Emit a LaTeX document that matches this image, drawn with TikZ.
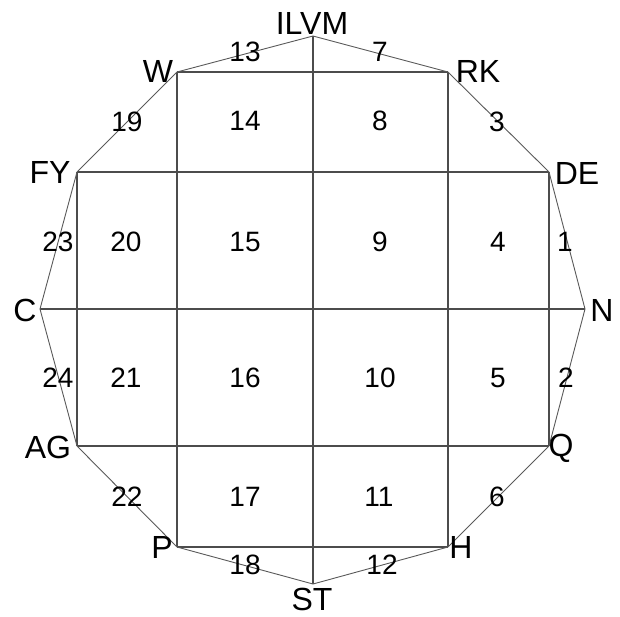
\documentclass[tikz,border=0pt]{standalone}
\usepackage{fontspec}
\setmainfont{Liberation Sans}
\begin{document}
\begin{tikzpicture}[x=1pt,y=-1pt,
  edge/.style={draw=black!65,line width=0.9pt},
  grid/.style={draw=black!70,line width=1.2pt},
  lbl/.style={font=\fontsize{32}{36}\selectfont,inner sep=0pt},
  num/.style={font=\fontsize{28}{32}\selectfont,inner sep=0pt}]
\useasboundingbox (0,0) rectangle (620,616);
% vertices
\coordinate (ilvm) at (313,36);
\coordinate (w) at (177,72);
\coordinate (rk) at (448,72);
\coordinate (fy) at (77,172);
\coordinate (de) at (549,172);
\coordinate (c) at (40,309);
\coordinate (n) at (585,309);
\coordinate (ag) at (77,446);
\coordinate (q) at (549,446);
\coordinate (p) at (177,547);
\coordinate (h) at (448,547);
\coordinate (st) at (313,584);
% grid
\draw[grid] (w) -- (rk);
\draw[grid] (fy) -- (de);
\draw[grid] (c) -- (n);
\draw[grid] (ag) -- (q);
\draw[grid] (p) -- (h);
\draw[grid] (ilvm) -- (st);
\draw[grid] (w) -- (p);
\draw[grid] (rk) -- (h);
\draw[grid] (fy) -- (ag);
\draw[grid] (de) -- (q);
% outline
\draw[edge,line join=round] (ilvm) -- (rk) -- (de) -- (n) -- (q) -- (h) -- (st) -- (p) -- (ag) -- (c) -- (fy) -- (w) -- cycle;
% vertex labels
\node[lbl] (lilvm) at (312,23) {ILVM};
\node[lbl] (lw) at (158,71) {W};
\node[lbl] (lrk) at (478,71) {RK};
\node[lbl] (lfy) at (50,172) {FY};
\node[lbl] (lde) at (577,173) {DE};
\node[lbl] (lc) at (25,310) {C};
\node[lbl] (ln) at (602,310) {N};
\node[lbl] (lag) at (48,447) {AG};
\node[lbl] (lq) at (561,448) {Q};
\node[lbl] (lp) at (162,547) {P};
\node[lbl] (lh) at (461,547) {H};
\node[lbl] (lst) at (312,599) {ST};
% edge labels
\node[num] (e13) at (245,52) {13};
\node[num] (e7) at (380,52) {7};
\node[num] (e19) at (127,122) {19};
\node[num] (e3) at (497,122) {3};
\node[num] (e23) at (58,242) {23};
\node[num] (e1) at (565,242) {1};
\node[num] (e24) at (58,378) {24};
\node[num] (e2) at (566,378) {2};
\node[num] (e22) at (127,497) {22};
\node[num] (e6) at (497,497) {6};
\node[num] (e18) at (245,565) {18};
\node[num] (e12) at (382,565) {12};
% cell labels
\node[num] (c14) at (245,121) {14};
\node[num] (c8) at (380,121) {8};
\node[num] (c20) at (126,242) {20};
\node[num] (c15) at (245,242) {15};
\node[num] (c9) at (380,242) {9};
\node[num] (c4) at (498,242) {4};
\node[num] (c21) at (126,378) {21};
\node[num] (c16) at (245,378) {16};
\node[num] (c10) at (380,378) {10};
\node[num] (c5) at (498,378) {5};
\node[num] (c17) at (245,497) {17};
\node[num] (c11) at (379,497) {11};
\end{tikzpicture}
\end{document}
